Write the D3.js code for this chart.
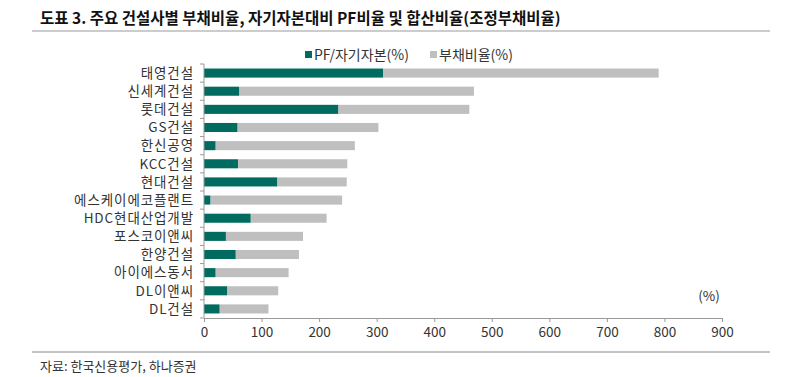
<!DOCTYPE html>
<html><head><meta charset="utf-8">
<script src="https://cdn.jsdelivr.net/npm/d3@7"></script>
<style>
body{margin:0;background:#fff;}
svg{display:block;font-family:"Noto Sans CJK KR","Noto Sans",sans-serif;}
</style></head>
<body><svg id="c" width="788" height="377"></svg>
<script>
const categories = ["태영건설","신세계건설","롯데건설","GS건설","한신공영","KCC건설","현대건설","에스케이에코플랜트","HDC현대산업개발","포스코이앤씨","한양건설","아이에스동서","DL이앤씨","DL건설"];
const pfRatio   = [311, 61, 233, 58, 20, 59, 127, 11, 81, 38, 55, 20, 40, 27];
const debtRatio = [479, 408, 228, 245, 242, 190, 121, 229, 132, 134, 110, 127, 89, 85];
const xTicks = [0,100,200,300,400,500,600,700,800,900];
const seriesNames = ["PF/자기자본(%)","부채비율(%)"];
const colors = ["#006b5e","#bfbfbf"];

const svg = d3.select("#c");
const x = d3.scaleLinear().domain([0,900]).range([204,722]);
const y = d3.scaleBand().domain(categories).range([64,318]).paddingInner(0.5).paddingOuter(0.25);

// title
svg.append("text").attr("x",40).attr("y",24).attr("font-size",15.5).attr("font-weight","bold")
  .attr("fill","#111").text("도표 3. 주요 건설사별 부채비율, 자기자본대비 PF비율 및 합산비율(조정부채비율)");
svg.append("line").attr("x1",32).attr("x2",770).attr("y1",31).attr("y2",31).attr("stroke","#999").attr("stroke-width",1.2);

// bars
const rows = categories.map((c,i)=>({c, pf:pfRatio[i], debt:debtRatio[i]}));
svg.append("g").selectAll("rect").data(rows).join("rect")
  .attr("x",d=>x(d.pf)).attr("y",d=>y(d.c)).attr("width",d=>x(d.pf+d.debt)-x(d.pf)).attr("height",y.bandwidth())
  .attr("fill",colors[1]);
svg.append("g").selectAll("rect").data(rows).join("rect")
  .attr("x",x(0)).attr("y",d=>y(d.c)).attr("width",d=>x(d.pf)-x(0)).attr("height",y.bandwidth())
  .attr("fill",colors[0]);

// left axis
const gy = svg.append("g");
gy.append("line").attr("x1",x(0)).attr("x2",x(0)).attr("y1",64).attr("y2",318).attr("stroke","#999");
d3.range(categories.length+1).forEach(i=>{
  const yy = 64 + i*(254/categories.length);
  gy.append("line").attr("x1",x(0)-4).attr("x2",x(0)).attr("y1",yy).attr("y2",yy).attr("stroke","#999");
});
gy.selectAll("text").data(categories).join("text")
  .attr("x",194).attr("y",d=>y(d)+y.bandwidth()/2).attr("dy","0.35em").attr("text-anchor","end")
  .attr("font-size",13.5).attr("letter-spacing","0.9px").attr("fill","#333").text(d=>d);

// bottom axis
const gx = svg.append("g").attr("transform","translate(0,318)");
gx.call(d3.axisBottom(x).tickValues(xTicks).tickSize(4).tickPadding(5));
gx.select(".domain").attr("stroke","#999");
gx.selectAll(".tick line").attr("stroke","#999");
gx.selectAll(".tick text").attr("font-size",13.5).attr("fill","#333").attr("font-family","'Noto Sans CJK KR','Noto Sans',sans-serif");

svg.append("text").attr("x",709).attr("y",301).attr("text-anchor","middle").attr("font-size",13.5).attr("fill","#333").text("(%)");

// legend
const lg = svg.append("g");
const legX = [305, 430];
seriesNames.forEach((n,i)=>{
  lg.append("rect").attr("x",legX[i]).attr("y",51).attr("width",7).attr("height",7).attr("fill",colors[i]);
  lg.append("text").attr("x",legX[i]+9).attr("y",59.5).attr("font-size",14).attr("fill","#333").text(n);
});

// footer
svg.append("line").attr("x1",32).attr("x2",770).attr("y1",352).attr("y2",352).attr("stroke","#888").attr("stroke-width",1);
svg.append("text").attr("x",40).attr("y",371).attr("font-size",13).attr("fill","#333").text("자료: 한국신용평가, 하나증권");
</script></body></html>
